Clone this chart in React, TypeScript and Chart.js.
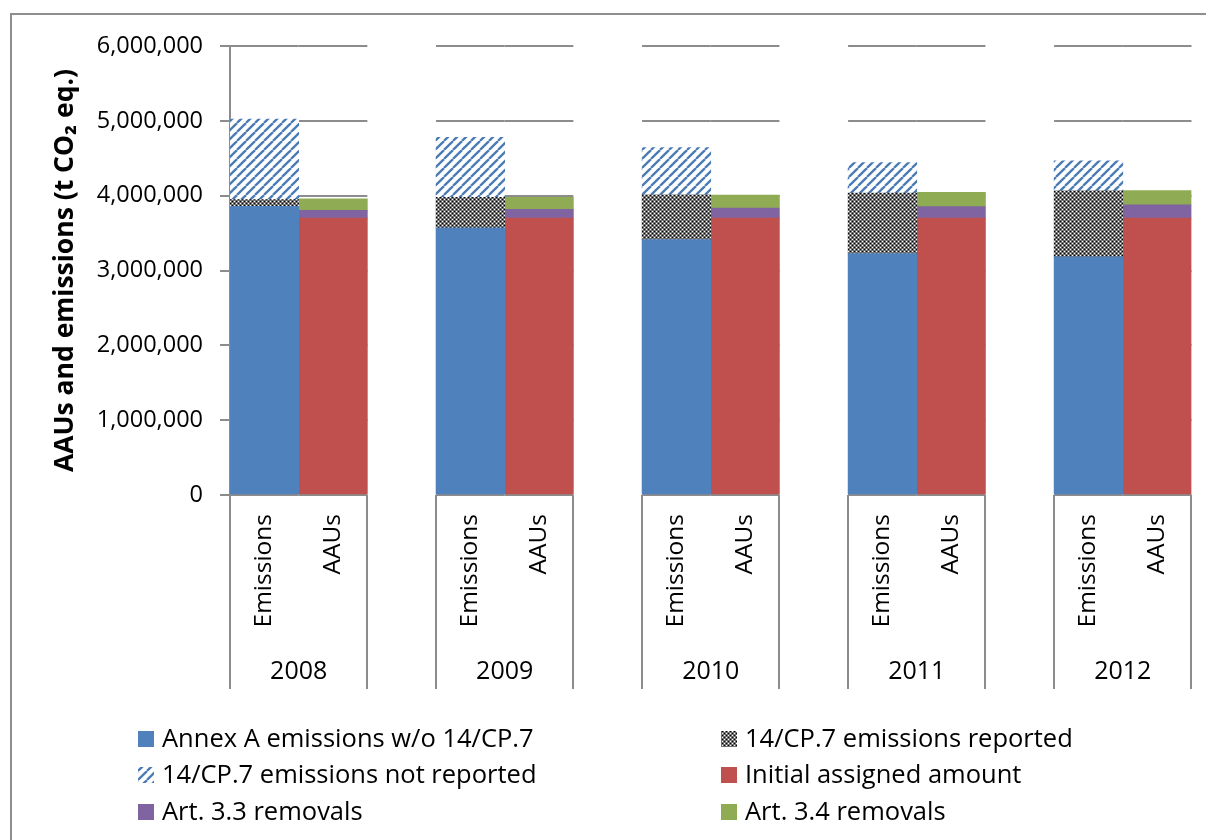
import React, { useEffect, useRef } from 'react';
import { Chart, registerables } from 'chart.js';

Chart.register(...registerables);

// ---------- data ----------
const years = ['2008', '2009', '2010', '2011', '2012'];
const barKinds = ['Emissions', 'AAUs'];
const seriesNames = [
  'Annex A emissions w/o 14/CP.7',
  '14/CP.7 emissions reported',
  '14/CP.7 emissions not reported',
  'Initial assigned amount',
  'Art. 3.3 removals',
  'Art. 3.4 removals',
];
const annexAEmissions = [3860000, 3570000, 3415000, 3228000, 3183000];
const cp7Reported = [90000, 410000, 598000, 809000, 884000];
const cp7NotReported = [1075000, 800000, 630000, 406000, 399000];
const initialAssigned = [3700000, 3700000, 3700000, 3700000, 3700000];
const art33Removals = [105000, 118000, 135000, 154000, 180000];
const art34Removals = [155000, 162000, 175000, 190000, 190000];
const yTickValues = [0, 1000000, 2000000, 3000000, 4000000, 5000000, 6000000];
const yAxisTitle = 'AAUs and emissions (t CO\u2082 eq.)';

// ---------- styling ----------
const FONT = "'Open Sans', sans-serif";
const GRID = '#8c8c8c';
const BLUE = '#4f81bd';
const RED = '#c0504d';
const PURPLE = '#8064a2';
const GREEN = '#8fac55';

type Slot = { label: string; year: number; kind: 'em' | 'aau' | 'gap' };
const slots: Slot[] = [];
years.forEach((_, i) => {
  slots.push({ label: barKinds[0], year: i, kind: 'em' });
  slots.push({ label: barKinds[1], year: i, kind: 'aau' });
  if (i < years.length - 1) slots.push({ label: '', year: i, kind: 'gap' });
});
const onSlots = (kind: string, values: number[]) =>
  slots.map((s) => (s.kind === kind ? values[s.year] : null));

function makeChecker(ctx: CanvasRenderingContext2D) {
  const c = document.createElement('canvas');
  c.width = 4;
  c.height = 4;
  const g = c.getContext('2d')!;
  g.fillStyle = '#707070';
  g.fillRect(0, 0, 4, 4);
  g.fillStyle = '#ffffff';
  g.fillRect(0, 0, 1, 1);
  g.fillRect(2, 2, 1, 1);
  g.fillStyle = '#000000';
  g.fillRect(2, 0, 1, 1);
  g.fillRect(0, 2, 1, 1);
  return ctx.createPattern(c, 'repeat')!;
}

function makeHatch(ctx: CanvasRenderingContext2D) {
  const s = 9;
  const c = document.createElement('canvas');
  c.width = s;
  c.height = s;
  const g = c.getContext('2d')!;
  g.fillStyle = '#ffffff';
  g.fillRect(0, 0, s, s);
  g.strokeStyle = '#4a7bb5';
  g.lineWidth = 2.3;
  for (const o of [-s, 0, s]) {
    g.beginPath();
    g.moveTo(o, s);
    g.lineTo(o + s, 0);
    g.stroke();
  }
  return ctx.createPattern(c, 'repeat')!;
}

const halfSlot = (xs: any) => (xs.getPixelForValue(1) - xs.getPixelForValue(0)) / 2;

const gridPlugin = {
  id: 'segmentGrid',
  beforeDatasetsDraw(chart: any) {
    const { ctx } = chart;
    const xs = chart.scales.x;
    const ys = chart.scales.y;
    const h = halfSlot(xs);
    ctx.save();
    ctx.strokeStyle = GRID;
    ctx.lineWidth = 2;
    yTickValues.forEach((v) => {
      const y = Math.round(ys.getPixelForValue(v));
      slots.forEach((s, i) => {
        if (s.kind === 'gap') return;
        const c = xs.getPixelForValue(i);
        ctx.beginPath();
        ctx.moveTo(c - h, y);
        ctx.lineTo(c + h, y);
        ctx.stroke();
      });
    });
    ctx.restore();
  },
};

const axisDecorPlugin = {
  id: 'axisDecor',
  afterDraw(chart: any) {
    const { ctx, chartArea } = chart;
    const xs = chart.scales.x;
    const h = halfSlot(xs);
    ctx.save();
    // group separators
    ctx.strokeStyle = GRID;
    ctx.lineWidth = 2;
    for (let b = 0; b <= slots.length; b++) {
      const left = slots[b - 1];
      const right = slots[b];
      if (left && right && left.kind === 'em' && right.kind === 'aau') continue;
      const x = Math.round(b < slots.length ? xs.getPixelForValue(b) - h : xs.getPixelForValue(b - 1) + h);
      ctx.beginPath();
      ctx.moveTo(x, chartArea.bottom);
      ctx.lineTo(x, xs.bottom);
      ctx.stroke();
    }
    // year labels
    ctx.fillStyle = '#000';
    ctx.font = `25px ${FONT}`;
    ctx.textAlign = 'center';
    ctx.textBaseline = 'middle';
    years.forEach((yr, i) => {
      const emIndex = slots.findIndex((s) => s.kind === 'em' && s.year === i);
      const x = xs.getPixelForValue(emIndex) + h;
      ctx.fillText(yr, x, xs.bottom - 17);
    });
    // legend in two columns
    const colX = [126, 709];
    const rowBase = [732, 768, 805];
    ctx.font = `25.5px ${FONT}`;
    ctx.textAlign = 'left';
    ctx.textBaseline = 'alphabetic';
    chart.data.datasets.forEach((ds: any, i: number) => {
      const col = i % 2;
      const row = Math.floor(i / 2);
      const x = colX[col];
      const base = rowBase[row];
      ctx.fillStyle = ds.backgroundColor;
      ctx.fillRect(x, base - 16, 16, 16);
      ctx.fillStyle = '#000';
      ctx.fillText(ds.label, x + 24, base);
    });
    ctx.restore();
  },
};

export default function App() {
  const canvasRef = useRef<HTMLCanvasElement | null>(null);

  useEffect(() => {
    const canvas = canvasRef.current;
    if (!canvas) return;
    const ctx = canvas.getContext('2d')!;
    const checker = makeChecker(ctx);
    const hatch = makeHatch(ctx);

    const chart = new Chart(canvas, {
      type: 'bar',
      data: {
        labels: slots.map((s) => s.label),
        datasets: [
          { label: seriesNames[0], data: onSlots('em', annexAEmissions), backgroundColor: BLUE },
          { label: seriesNames[1], data: onSlots('em', cp7Reported), backgroundColor: checker as any },
          { label: seriesNames[2], data: onSlots('em', cp7NotReported), backgroundColor: hatch as any },
          { label: seriesNames[3], data: onSlots('aau', initialAssigned), backgroundColor: RED },
          { label: seriesNames[4], data: onSlots('aau', art33Removals), backgroundColor: PURPLE },
          { label: seriesNames[5], data: onSlots('aau', art34Removals), backgroundColor: GREEN },
        ],
      },
      options: {
        responsive: false,
        animation: false,
        datasets: { bar: { barPercentage: 1, categoryPercentage: 1, borderWidth: 0 } },
        layout: { padding: { left: 0, right: 13, top: 29, bottom: 151 } },
        plugins: {
          legend: { display: false },
          tooltip: { enabled: false },
        },
        scales: {
          x: {
            stacked: true,
            offset: true,
            grid: { display: false, drawTicks: false },
            border: { display: false },
            ticks: {
              autoSkip: false,
              minRotation: 90,
              maxRotation: 90,
              padding: 19,
              color: '#000',
              font: { family: FONT, size: 24.5 },
            },
            afterFit: (s: any) => {
              s.height = 194;
            },
          },
          y: {
            stacked: true,
            min: 0,
            max: 6000000,
            afterBuildTicks: (s: any) => {
              s.ticks = yTickValues.map((v) => ({ value: v }));
            },
            ticks: {
              color: '#000',
              padding: 17,
              font: { family: FONT, size: 23.5 },
              callback: (v: any) => Number(v).toLocaleString('en-US'),
            },
            grid: { drawOnChartArea: false, drawTicks: true, tickLength: 10, color: GRID, lineWidth: 2 },
            border: { display: true, color: GRID, width: 2 },
            title: {
              display: true,
              text: yAxisTitle,
              color: '#000',
              font: { family: FONT, size: 26.5, weight: 'bold' },
              padding: { top: 38, bottom: 0 },
            },
            afterFit: (s: any) => {
              s.width = 218;
            },
          },
        },
      },
      plugins: [gridPlugin, axisDecorPlugin],
    });
    return () => chart.destroy();
  }, []);

  return (
    <div
      style={{
        position: 'absolute',
        left: 10,
        top: 13,
        width: 1196,
        height: 827,
        borderTop: '2px solid #8e8e8e',
        borderLeft: '2px solid #8e8e8e',
        background: '#fff',
      }}
    >
      <canvas ref={canvasRef} width={1194} height={825} style={{ display: 'block' }} />
    </div>
  );
}
